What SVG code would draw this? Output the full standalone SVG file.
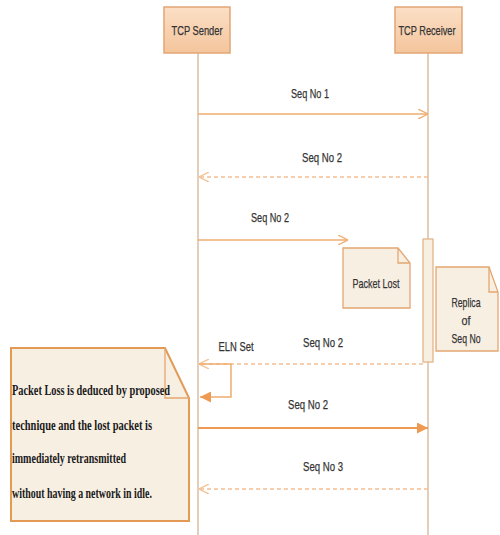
<svg xmlns="http://www.w3.org/2000/svg" width="500" height="535" viewBox="0 0 500 535">
<defs>
<linearGradient id="boxg" x1="0" y1="0" x2="0" y2="1">
<stop offset="0" stop-color="#fbdfc6"/>
<stop offset="1" stop-color="#f4c59c"/>
</linearGradient>
<marker id="open" viewBox="0 0 10 10" refX="10" refY="5" markerWidth="10" markerHeight="10" markerUnits="userSpaceOnUse" orient="auto">
<path d="M0,0 L10,5 L0,10" fill="none" stroke="#f0ad6e" stroke-width="1.3"/>
</marker>
<marker id="openl" viewBox="0 0 10 10" refX="10" refY="5" markerWidth="10" markerHeight="10" markerUnits="userSpaceOnUse" orient="auto">
<path d="M0,0 L10,5 L0,10" fill="none" stroke="#f3bf92" stroke-width="1.3"/>
</marker>
<marker id="fill" viewBox="0 0 10 10" refX="10" refY="5" markerWidth="11" markerHeight="11" markerUnits="userSpaceOnUse" orient="auto">
<path d="M0,0 L10,5 L0,10 Z" fill="#ee9a52"/>
</marker>
</defs>
<style>
.box{fill:url(#boxg);stroke:#e2a575;stroke-width:1.5}
.life{stroke:#d2b497;stroke-width:1.3;fill:none}
.msg{stroke:#f0ad6e;stroke-width:1.5;fill:none}
.ret{stroke:#f3bf92;stroke-width:1.5;fill:none;stroke-dasharray:4 3}
.strong{stroke:#ee9a52;stroke-width:2.2;fill:none}
.note{fill:#f8efe3;stroke:#e4a670;stroke-width:1.3}
.bignote{fill:#f8efe3;stroke:#e39a55;stroke-width:2}
.fold{fill:none;stroke:#e4a670;stroke-width:1.3}
.lbl{font-family:"Liberation Sans",Arial,sans-serif;font-size:13.5px;fill:#333;text-anchor:middle;stroke:#333;stroke-width:0.25}
.ser{font-family:"Liberation Serif","Times New Roman",serif;font-size:14.5px;font-weight:bold;fill:#1a1a1a}
</style>
<g id="lifelines">
<line class="life" x1="198" y1="53" x2="198" y2="535"/>
<line class="life" x1="428" y1="53" x2="428" y2="535"/>
</g>
<g id="sender">
<rect class="box" x="164" y="7" width="66" height="46"/>
<text class="lbl" x="197" y="35" textLength="51" lengthAdjust="spacingAndGlyphs">TCP Sender</text>
</g>
<g id="receiver">
<rect class="box" x="395" y="7" width="67" height="46"/>
<text class="lbl" x="427" y="35" textLength="57" lengthAdjust="spacingAndGlyphs">TCP Receiver</text>
</g>
<g id="activation">
<rect x="423" y="239" width="10" height="123" fill="#f8efe3" stroke="#e2b489" stroke-width="1.3"/>
</g>
<g id="connectors">
<line class="msg" x1="198" y1="114" x2="428" y2="114" marker-end="url(#open)"/>
<line class="ret" x1="428" y1="177" x2="199" y2="177" marker-end="url(#openl)"/>
<line class="msg" x1="198" y1="240" x2="348" y2="240" marker-end="url(#open)"/>
<line class="ret" x1="423" y1="364" x2="199" y2="364" marker-end="url(#openl)"/>
<polyline class="msg" points="199,364 231,364 231,397 200,397" marker-end="url(#fill)"/>
<line class="strong" x1="198" y1="428" x2="428" y2="428" marker-end="url(#fill)"/>
<line class="ret" x1="428" y1="489" x2="199" y2="489" marker-end="url(#openl)"/>
</g>
<g id="labels">
<text class="lbl" x="310" y="98" textLength="38" lengthAdjust="spacingAndGlyphs">Seq No 1</text>
<text class="lbl" x="322" y="162" textLength="40" lengthAdjust="spacingAndGlyphs">Seq No 2</text>
<text class="lbl" x="270" y="222" textLength="38" lengthAdjust="spacingAndGlyphs">Seq No 2</text>
<text class="lbl" x="323" y="347" textLength="40" lengthAdjust="spacingAndGlyphs">Seq No 2</text>
<text class="lbl" x="236" y="351" textLength="35" lengthAdjust="spacingAndGlyphs">ELN Set</text>
<text class="lbl" x="308" y="409" textLength="40" lengthAdjust="spacingAndGlyphs">Seq No 2</text>
<text class="lbl" x="323" y="471" textLength="40" lengthAdjust="spacingAndGlyphs">Seq No 3</text>
</g>
<g id="packet-lost">
<path class="note" d="M343,248 L398,248 L410,263 L410,308 L343,308 Z"/>
<path class="fold" d="M398,248 L398,263 L410,263"/>
<text class="lbl" x="376" y="288" textLength="47" lengthAdjust="spacingAndGlyphs">Packet Lost</text>
</g>
<g id="replica">
<path class="note" d="M436,267 L489,267 L498,292 L498,351 L436,351 Z"/>
<path class="fold" d="M489,267 L489,292 L498,292"/>
<text class="lbl" x="466" y="307" textLength="29" lengthAdjust="spacingAndGlyphs">Replica</text>
<text class="lbl" x="466" y="325" textLength="9" lengthAdjust="spacingAndGlyphs">of</text>
<text class="lbl" x="466" y="343" textLength="29" lengthAdjust="spacingAndGlyphs">Seq No</text>
</g>
<g id="loss-note">
<path class="bignote" d="M11,348 L165,348 L189,398 L189,521 L11,521 Z"/>
<path class="fold" d="M165,348 L165,398 L189,398" stroke="#e39a55" stroke-width="2"/>
<text class="ser" x="12" y="395" textLength="158" lengthAdjust="spacingAndGlyphs">Packet Loss is deduced by proposed</text>
<text class="ser" x="12" y="430" textLength="140" lengthAdjust="spacingAndGlyphs">technique and the lost packet is</text>
<text class="ser" x="12" y="463" textLength="114" lengthAdjust="spacingAndGlyphs">immediately retransmitted</text>
<text class="ser" x="12" y="498" textLength="140" lengthAdjust="spacingAndGlyphs">without having a network in idle.</text>
</g>
</svg>
